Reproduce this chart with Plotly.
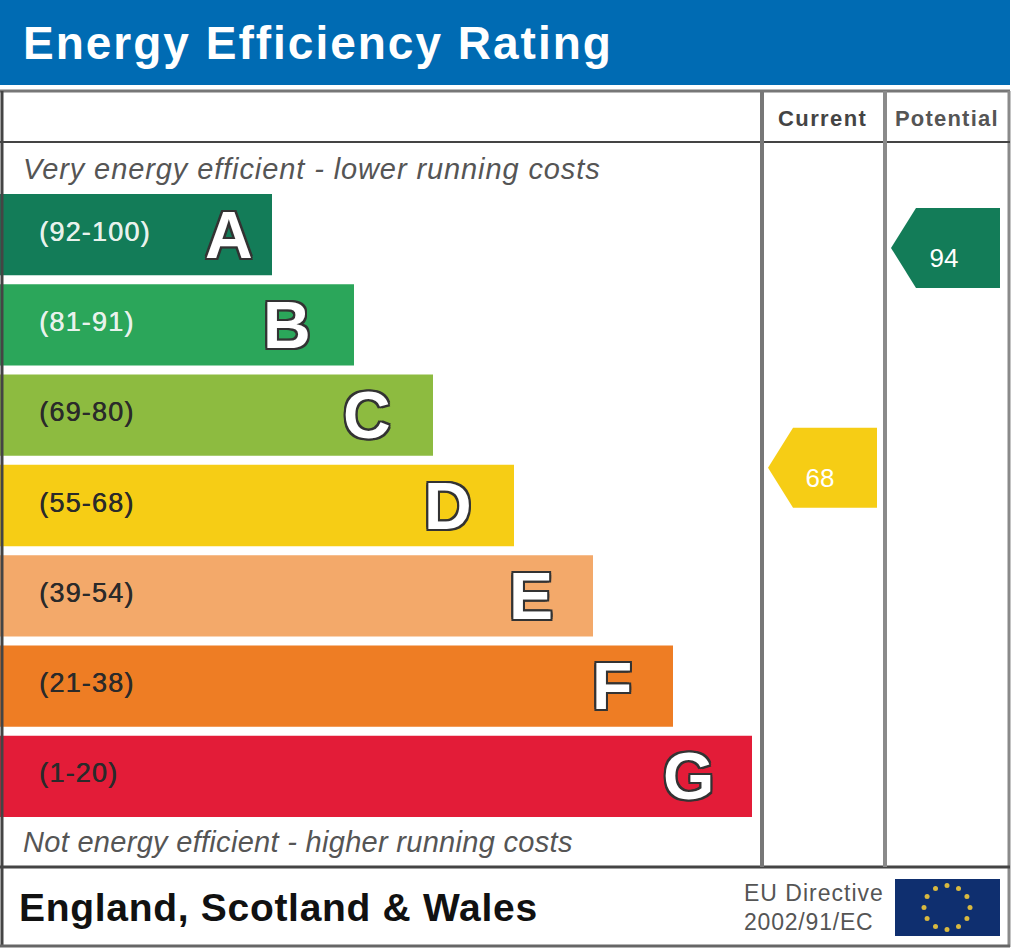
import math
import plotly.graph_objects as go

W = 1024
H = 948

# rating bands, top to bottom
letters = ["A", "B", "C", "D", "E", "F", "G"]
range_labels = ["(92-100)", "(81-91)", "(69-80)", "(55-68)", "(39-54)", "(21-38)", "(1-20)"]
bar_lengths = [272, 354, 433, 514, 593, 673, 752]
bar_colors = ["#137C58", "#2BA65A", "#8DBB40", "#F6CD15", "#F3A96A", "#EE7D24", "#E31C38"]
label_colors = ["#E8F2EC", "#E8F2EC", "#2A2A2A", "#2A2A2A", "#2A2A2A", "#2A2A2A", "#2A2A2A"]
letter_pads = [17, 41, 40, 40, 38, 39, 36]

# pointers
pointer_names = ["Current", "Potential"]
pointer_scores = [68, 94]
pointer_colors = ["#F6CD15", "#137C58"]


def py(px):
    # pixels from top -> paper fraction
    return 1 - px / H


def spaced(s, px):
    return f'<span style="letter-spacing:{px}px">{s}</span>'


def text(x, y, s, size, color, anchor="left", gap=0, family="Liberation Sans"):
    fig.add_annotation(x=x, y=py(y), xref="x", yref="paper", text=spaced(s, gap), showarrow=False,
                       xanchor=anchor, yanchor="middle",
                       font=dict(family=family, size=size, color=color))


def line(x0, y0, x1, y1, color, width):
    fig.add_shape(type="line", xref="x", yref="paper", x0=x0, x1=x1, y0=py(y0), y1=py(y1),
                  line=dict(color=color, width=width), layer="above")


def rect(x0, y0, x1, y1, color):
    fig.add_shape(type="rect", xref="x", yref="paper", x0=x0, x1=x1, y0=py(y0), y1=py(y1),
                  fillcolor=color, line=dict(width=0), layer="below")


fig = go.Figure()

fig.add_trace(go.Bar(x=bar_lengths, y=letters, orientation="h", marker=dict(color=bar_colors, line=dict(width=0)),
                     showlegend=False, hoverinfo="skip"))

# value labels on the pointers
fig.add_trace(go.Scatter(x=[820, 944], y=pointer_scores, yaxis="y2", mode="text", text=[str(s) for s in pointer_scores],
                         textposition="bottom center", showlegend=False, hoverinfo="skip",
                         textfont=dict(family="Liberation Sans", size=26, color="white")))

# header
rect(0, 0, 1010, 85, "#006BB3")
text(21, 43, "<b>Energy Efficiency Rating</b>", 46, "white", gap=2)

# frame
line(0, 91, 1010, 91, "#777777", 3)
line(2, 91, 2, 947, "#444444", 3)
line(1009, 91, 1009, 947, "#8A8A8A", 3)
line(0, 946, 1010, 946, "#666666", 3)
line(0, 142, 1010, 142, "#444444", 2)
line(0, 867, 1010, 867, "#444444", 3)
line(762, 91, 762, 867, "#777777", 4)
line(885, 91, 885, 867, "#8A8A8A", 4)

text(822, 118, "<b>Current</b>", 22, "#444444", "center", gap=1.4)
text(947, 118, "<b>Potential</b>", 22, "#555555", "center", gap=1.2)
text(21, 169, "<i>Very energy efficient - lower running costs</i>", 29, "#555555", gap=0.9)
text(21, 842, "<i>Not energy efficient - higher running costs</i>", 29, "#555555", gap=0.3)
text(17, 907, "<b>England, Scotland &amp; Wales</b>", 39, "#111111", gap=0.7)
text(742, 893, "EU Directive", 23, "#555555", gap=1)
text(742, 922, "2002/91/EC", 23, "#555555", gap=0.8)

# bar labels and outlined letters
stroke = ",".join(f"{a}px {b}px 0 #333333" for a in (-2, 0, 2) for b in (-2, 0, 2))
for letter, label, length, color, pad in zip(letters, range_labels, bar_lengths, label_colors, letter_pads):
    fig.add_annotation(x=37, y=letter, xref="x", yref="y", text=spaced(label, 1.2), showarrow=False, xanchor="left",
                       yshift=3,
                       font=dict(family="Liberation Sans", size=27, color=color, shadow=f"0.5px 0 0 {color}"))
    fig.add_annotation(x=length, y=letter, xref="x", yref="y", text=f"<b>{letter}</b>", showarrow=False,
                       xanchor="right", xshift=-pad,
                       font=dict(family="Liberation Sans", size=66, color="white", shadow=stroke))

# pointers, anchored on the score axis
for x, score, color in zip([793, 916], pointer_scores, pointer_colors):
    fig.add_shape(type="path", xref="x", yref="y2", xsizemode="pixel", ysizemode="pixel", xanchor=x, yanchor=score,
                  path="M -25 0 L 0 40 L 84 40 L 84 -40 L 0 -40 Z", fillcolor=color, line=dict(width=0), layer="below")

# EU flag
rect(895, 879, 1000, 936, "#0F2F6F")
for i in range(12):
    a = math.radians(30 * i)
    cx = 947 + 23 * math.sin(a)
    cy = 907.5 - 22 * math.cos(a)
    fig.add_shape(type="circle", xref="x", yref="paper", x0=cx - 2.5, x1=cx + 2.5, y0=py(cy - 2.5), y1=py(cy + 2.5),
                  fillcolor="#D9B93F", line=dict(width=0))

fig.update_layout(
    width=W, height=H, autosize=False,
    margin=dict(l=0, r=0, t=0, b=0),
    paper_bgcolor="white", plot_bgcolor="white",
    bargap=0.1,
    xaxis=dict(range=[0, W], domain=[0, 1], visible=False, fixedrange=True),
    yaxis=dict(domain=[py(821.5), py(189.5)], type="category", categoryorder="array", categoryarray=letters,
               autorange="reversed", visible=False),
    # overlaid axis shares the bars' domain
    yaxis2=dict(range=[26.2, 100.9], overlaying="y", visible=False),
)

fig.write_html("out.html", post_script="document.body.style.margin='0';", config=dict(displayModeBar=False))
